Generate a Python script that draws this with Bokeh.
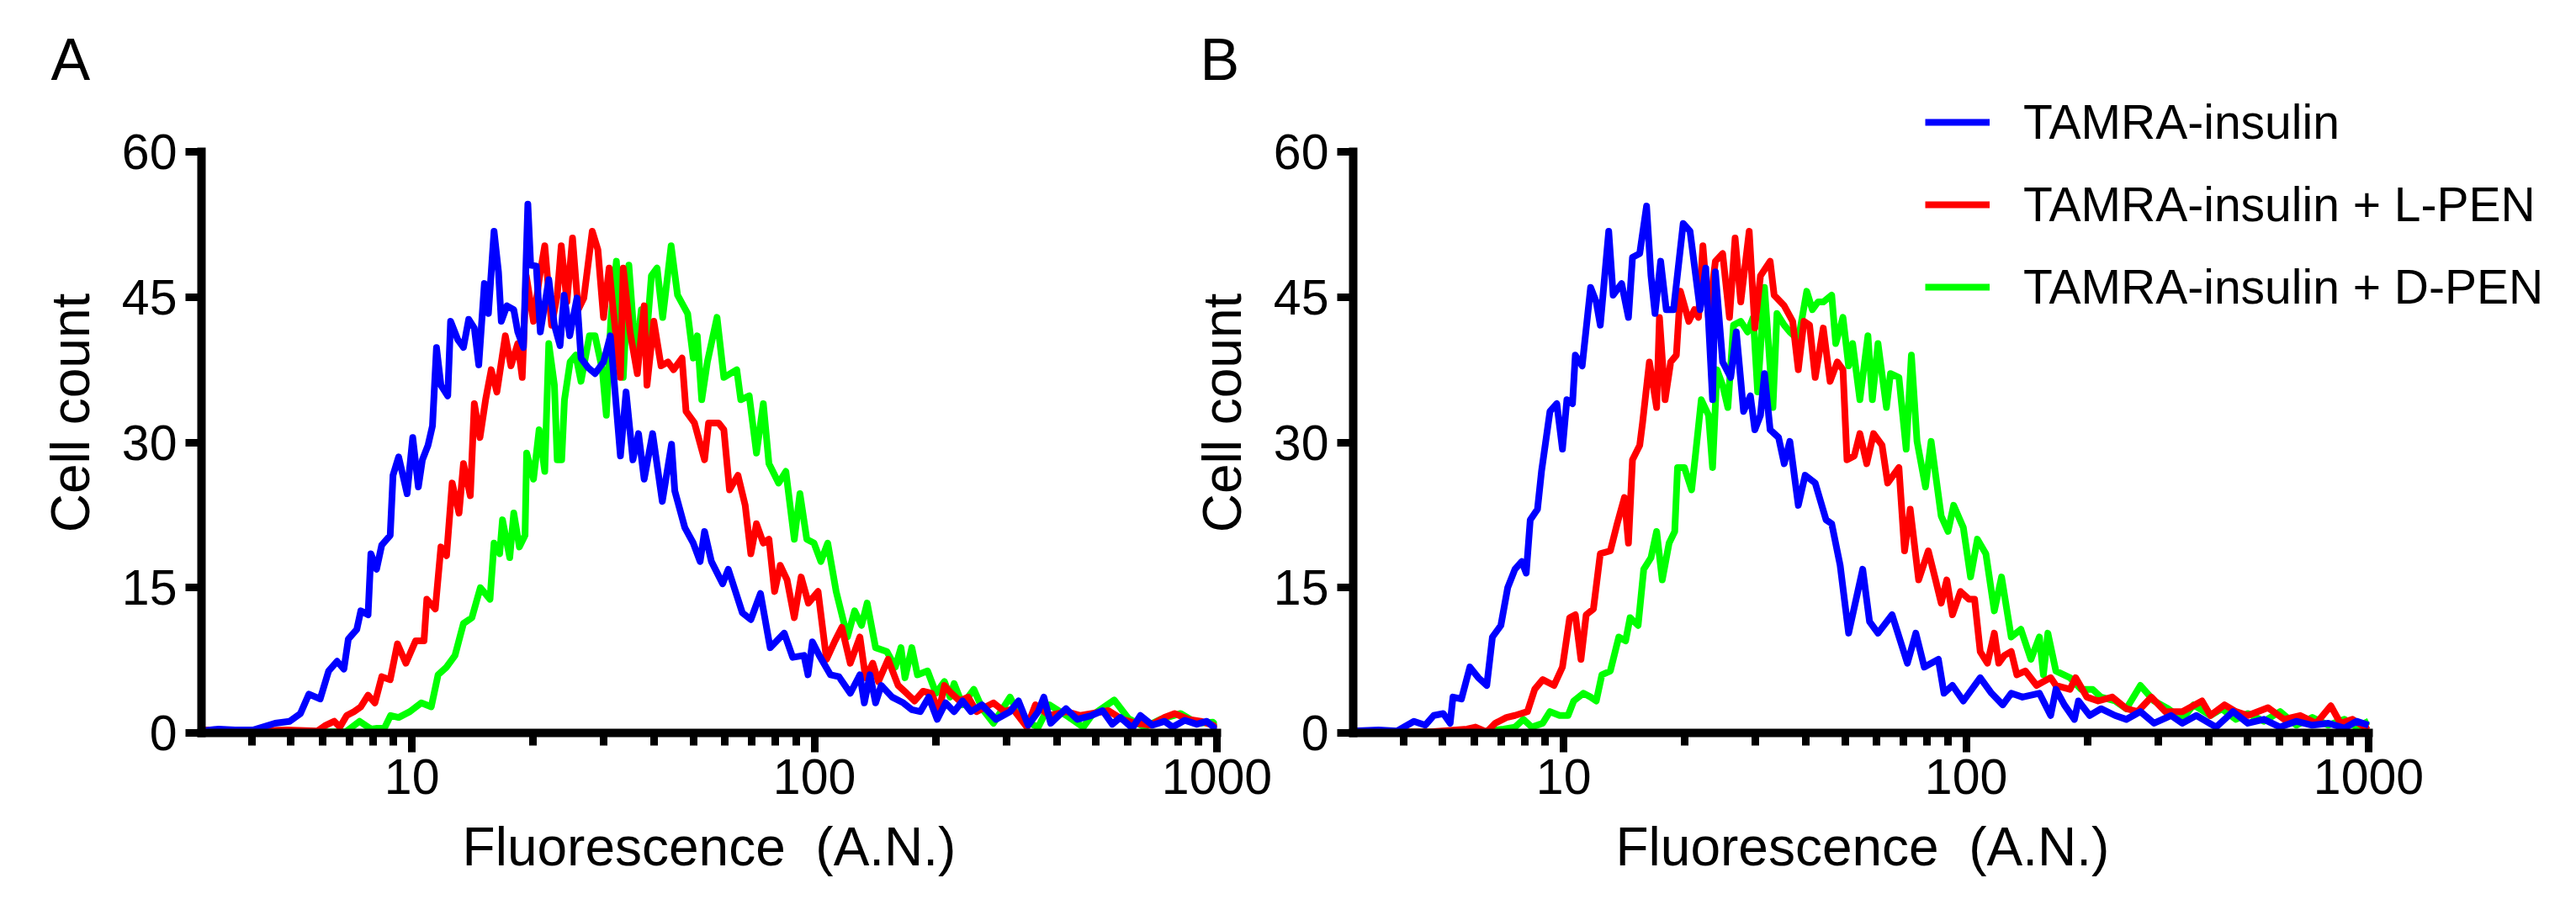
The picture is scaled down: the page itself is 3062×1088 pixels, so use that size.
from bokeh.plotting import figure
from bokeh.models import (Range1d, FixedTicker, Legend, LegendItem, Title,
                          BasicTickFormatter)
from bokeh.layouts import row
from bokeh.embed import file_html
from bokeh.resources import INLINE
import numpy as np

FONT = "Liberation Sans"

# Flow cytometry histograms: x = log10(fluorescence, A.N.), y = cell count per channel
series_labels = ["TAMRA-insulin", "TAMRA-insulin + L-PEN", "TAMRA-insulin + D-PEN"]
series_colors = ["#0000FF", "#FF0000", "#00FF00"]

x_ticks = [10, 100, 1000]
x_tick_labels = ["10", "100", "1000"]
x_minor_ticks = [4, 5, 6, 7, 8, 9, 20, 30, 40, 50, 60, 70, 80, 90,
                 200, 300, 400, 500, 600, 700, 800, 900]
y_ticks = [0, 15, 30, 45, 60]
x_limits = (3, 1000)
y_limits = (0, 60)
x_title = "Fluorescence\u00a0 (A.N.)"
y_title = "Cell count"

# ---- Panel A ----
a_blue_logf = [
    0.477, 0.520, 0.560, 0.605, 0.660, 0.696, 0.723, 0.744, 0.772, 0.793,
    0.814, 0.831, 0.842, 0.863, 0.873, 0.891, 0.898, 0.912, 0.925, 0.946,
    0.953, 0.967, 0.988, 1.002, 1.016, 1.026, 1.040, 1.051, 1.061, 1.072,
    1.089, 1.096, 1.114, 1.128, 1.141, 1.155, 1.166, 1.180, 1.190, 1.204,
    1.215, 1.222, 1.236, 1.253, 1.263, 1.277, 1.288, 1.295, 1.309, 1.319,
    1.340, 1.354, 1.368, 1.378, 1.392, 1.410, 1.420, 1.438, 1.455, 1.476,
    1.493, 1.518, 1.532, 1.549, 1.563, 1.577, 1.598, 1.622, 1.645, 1.653,
    1.678, 1.699, 1.716, 1.727, 1.744, 1.772, 1.786, 1.807, 1.821, 1.842,
    1.866, 1.890, 1.925, 1.946, 1.974, 1.984, 1.995, 2.012, 2.040, 2.061,
    2.089, 2.113, 2.124, 2.138, 2.152, 2.166, 2.193, 2.221, 2.242, 2.263,
    2.284, 2.305, 2.326, 2.347, 2.368, 2.389, 2.416, 2.451, 2.486, 2.507,
    2.531, 2.556, 2.570, 2.587, 2.625, 2.653, 2.688, 2.716, 2.740, 2.760,
    2.790, 2.810, 2.840, 2.870, 2.890, 2.920, 2.950, 2.975, 3.000]
a_blue_count = [
    0.2, 0.4, 0.3, 0.3, 1.0, 1.2, 2.0, 4.0, 3.5, 6.4,
    7.4, 6.6, 9.7, 10.7, 12.6, 12.2, 18.5, 16.9, 19.4, 20.4,
    26.6, 28.5, 24.7, 30.5, 25.4, 28.2, 29.7, 31.7, 39.8, 35.9,
    34.8, 42.5, 40.6, 39.8, 42.7, 41.8, 38.0, 46.4, 43.3, 51.8,
    47.6, 42.5, 44.1, 43.7, 41.4, 39.8, 54.6, 48.3, 48.2, 41.4,
    46.8, 42.1, 40.0, 45.2, 41.0, 44.9, 38.7, 37.7, 37.1, 38.3,
    41.0, 28.6, 35.2, 28.2, 30.9, 26.2, 30.9, 23.9, 29.8, 25.0,
    21.2, 19.6, 17.7, 20.8, 17.7, 15.4, 16.9, 14.2, 12.4, 11.7,
    14.4, 8.8, 10.3, 7.8, 8.0, 6.0, 9.4, 8.0, 6.0, 5.8,
    4.1, 6.0, 3.1, 6.0, 3.1, 4.9, 3.7, 3.1, 2.4, 2.2,
    3.7, 1.4, 3.1, 2.2, 3.3, 2.2, 2.9, 1.4, 2.2, 3.3,
    0.8, 2.2, 3.7, 1.0, 2.5, 1.4, 1.8, 2.3, 0.9, 1.6,
    0.5, 1.8, 0.8, 1.2, 0.6, 1.3, 0.9, 1.2, 0.3]

a_red_logf = [
    0.477, 0.540, 0.605, 0.689, 0.765, 0.786, 0.807, 0.821, 0.838, 0.856,
    0.873, 0.891, 0.908, 0.925, 0.946, 0.964, 0.985, 1.009, 1.030, 1.037,
    1.058, 1.072, 1.086, 1.100, 1.117, 1.128, 1.145, 1.155, 1.169, 1.183,
    1.197, 1.211, 1.232, 1.246, 1.263, 1.274, 1.284, 1.302, 1.316, 1.330,
    1.347, 1.361, 1.371, 1.385, 1.399, 1.413, 1.427, 1.448, 1.462, 1.476,
    1.490, 1.500, 1.518, 1.525, 1.542, 1.560, 1.577, 1.584, 1.601, 1.619,
    1.636, 1.650, 1.671, 1.681, 1.702, 1.727, 1.737, 1.762, 1.775, 1.789,
    1.810, 1.828, 1.842, 1.856, 1.873, 1.887, 1.901, 1.915, 1.932, 1.950,
    1.967, 1.985, 2.009, 2.030, 2.051, 2.068, 2.089, 2.113, 2.127, 2.145,
    2.159, 2.183, 2.208, 2.229, 2.249, 2.270, 2.291, 2.309, 2.323, 2.340,
    2.361, 2.382, 2.403, 2.445, 2.472, 2.493, 2.528, 2.549, 2.584, 2.626,
    2.661, 2.689, 2.730, 2.765, 2.800, 2.835, 2.870, 2.895, 2.930, 2.960,
    2.990, 3.000]
a_red_count = [
    0.3, 0.3, 0.2, 0.3, 0.2, 0.8, 1.2, 0.6, 1.8, 2.2,
    2.7, 3.9, 3.1, 5.8, 5.5, 9.2, 7.2, 9.5, 9.5, 13.8,
    12.8, 19.2, 18.3, 25.8, 22.7, 27.8, 24.5, 34.0, 30.5, 34.4,
    37.5, 35.2, 41.0, 37.9, 40.2, 36.7, 47.2, 42.5, 46.8, 50.3,
    42.1, 45.2, 50.3, 44.5, 51.1, 43.7, 44.9, 51.8, 49.9, 42.9,
    48.0, 43.7, 36.7, 48.0, 41.4, 37.1, 44.1, 35.9, 42.5, 37.9,
    38.3, 37.5, 38.7, 33.2, 32.0, 28.2, 32.0, 32.0, 31.3, 25.1,
    26.6, 23.5, 18.5, 21.6, 19.6, 20.0, 14.6, 17.3, 15.8, 11.9,
    16.1, 13.4, 14.6, 7.6, 9.5, 10.9, 7.2, 9.9, 5.7, 7.2,
    5.3, 7.6, 4.9, 4.1, 3.3, 4.3, 4.1, 2.2, 4.9, 4.1,
    3.3, 3.7, 2.2, 3.1, 2.2, 2.5, 0.6, 2.9, 1.8, 2.2,
    1.8, 2.0, 2.3, 1.4, 1.0, 0.8, 1.6, 2.0, 1.4, 1.2,
    0.8, 0.5]

a_green_logf = [
    0.477, 0.605, 0.744, 0.835, 0.870, 0.898, 0.933, 0.947, 0.967, 0.995,
    1.023, 1.048, 1.065, 1.086, 1.107, 1.128, 1.149, 1.170, 1.194, 1.204,
    1.218, 1.225, 1.243, 1.253, 1.267, 1.281, 1.285, 1.302, 1.316, 1.330,
    1.340, 1.354, 1.361, 1.372, 1.379, 1.393, 1.407, 1.420, 1.441, 1.455,
    1.473, 1.483, 1.494, 1.508, 1.525, 1.539, 1.556, 1.570, 1.581, 1.595,
    1.609, 1.623, 1.644, 1.660, 1.685, 1.699, 1.709, 1.720, 1.734, 1.758,
    1.775, 1.807, 1.817, 1.838, 1.856, 1.873, 1.887, 1.911, 1.929, 1.950,
    1.964, 1.981, 1.999, 2.016, 2.033, 2.054, 2.082, 2.100, 2.117, 2.131,
    2.152, 2.180, 2.201, 2.215, 2.225, 2.242, 2.256, 2.281, 2.302, 2.323,
    2.337, 2.347, 2.368, 2.396, 2.417, 2.445, 2.486, 2.514, 2.556, 2.584,
    2.626, 2.668, 2.689, 2.745, 2.780, 2.820, 2.860, 2.910, 2.950, 2.990,
    3.000]
a_green_count = [
    0.1, 0.1, 0.1, 0.1, 1.2, 0.4, 0.6, 1.8, 1.6, 2.2,
    3.1, 2.7, 6.0, 6.8, 8.0, 11.3, 11.9, 15.0, 13.8, 19.6,
    18.5, 22.0, 18.1, 22.7, 19.2, 20.4, 28.9, 26.2, 31.3, 27.0,
    40.2, 35.9, 28.2, 28.2, 34.4, 38.3, 39.0, 36.3, 41.0, 41.0,
    37.5, 32.8, 42.5, 48.7, 36.7, 48.3, 38.7, 43.7, 39.8, 47.2,
    48.0, 42.9, 50.3, 45.2, 43.3, 38.7, 41.0, 34.4, 38.3, 42.9,
    36.7, 37.5, 34.4, 34.8, 28.9, 34.0, 27.8, 25.8, 27.0, 20.0,
    24.7, 20.0, 19.6, 17.7, 19.6, 14.6, 9.9, 12.6, 11.1, 13.4,
    8.8, 8.4, 6.8, 8.8, 5.7, 8.8, 6.0, 6.4, 4.1, 5.3,
    3.7, 5.1, 2.9, 4.5, 2.5, 1.0, 3.7, 1.4, 0.6, 2.9,
    1.8, 0.6, 1.8, 3.4, 1.5, 0.6, 1.4, 2.0, 1.0, 1.1,
    0.7]

# ---- Panel B ----
b_blue_logf = [
    0.477, 0.540, 0.586, 0.628, 0.656, 0.677, 0.701, 0.718, 0.725, 0.746,
    0.767, 0.788, 0.809, 0.823, 0.844, 0.861, 0.879, 0.896, 0.907, 0.917,
    0.935, 0.945, 0.966, 0.983, 0.997, 1.008, 1.022, 1.029, 1.046, 1.067,
    1.081, 1.091, 1.112, 1.123, 1.144, 1.161, 1.171, 1.189, 1.206, 1.217,
    1.227, 1.241, 1.255, 1.273, 1.297, 1.314, 1.339, 1.353, 1.370, 1.377,
    1.395, 1.415, 1.429, 1.447, 1.464, 1.475, 1.489, 1.499, 1.513, 1.534,
    1.548, 1.562, 1.583, 1.600, 1.625, 1.652, 1.666, 1.687, 1.708, 1.743,
    1.760, 1.781, 1.816, 1.854, 1.875, 1.896, 1.931, 1.945, 1.966, 1.993,
    2.035, 2.063, 2.091, 2.112, 2.140, 2.182, 2.210, 2.223, 2.244, 2.269,
    2.279, 2.307, 2.335, 2.370, 2.398, 2.433, 2.467, 2.509, 2.537, 2.572,
    2.621, 2.663, 2.700, 2.740, 2.780, 2.820, 2.860, 2.900, 2.940, 2.970,
    3.000]
b_blue_count = [
    0.2, 0.3, 0.2, 1.2, 0.8, 1.8, 2.0, 1.0, 3.7, 3.5,
    6.8, 5.7, 4.9, 9.9, 11.1, 15.0, 16.9, 17.7, 16.5, 22.0,
    23.1, 27.0, 33.2, 34.0, 29.3, 34.4, 34.0, 39.0, 37.9, 46.0,
    44.5, 42.1, 51.8, 45.2, 46.4, 42.9, 49.1, 49.5, 54.4, 47.2,
    43.3, 48.7, 43.7, 43.7, 52.6, 51.8, 43.7, 48.0, 34.4, 47.6,
    38.3, 36.7, 41.4, 33.2, 34.8, 31.3, 32.8, 37.1, 31.3, 30.5,
    27.8, 30.1, 23.5, 26.6, 25.8, 22.0, 21.6, 17.3, 10.3, 16.9,
    11.5, 10.3, 12.2, 7.2, 10.3, 6.8, 7.6, 4.1, 4.9, 3.3,
    5.7, 4.1, 2.9, 4.1, 3.7, 4.1, 1.8, 4.5, 2.9, 1.4,
    3.3, 1.8, 2.5, 1.8, 1.4, 2.2, 1.0, 1.8, 1.0, 1.8,
    0.6, 2.2, 1.0, 1.4, 0.6, 1.2, 0.8, 1.0, 0.5, 1.2,
    0.8]

b_red_logf = [
    0.477, 0.586, 0.670, 0.760, 0.781, 0.809, 0.830, 0.858, 0.879, 0.910,
    0.928, 0.948, 0.976, 0.997, 1.015, 1.029, 1.043, 1.056, 1.074, 1.091,
    1.116, 1.133, 1.151, 1.161, 1.171, 1.189, 1.196, 1.213, 1.231, 1.238,
    1.252, 1.266, 1.280, 1.290, 1.311, 1.325, 1.335, 1.346, 1.360, 1.377,
    1.395, 1.412, 1.426, 1.440, 1.461, 1.475, 1.489, 1.513, 1.523, 1.548,
    1.569, 1.583, 1.597, 1.611, 1.625, 1.645, 1.662, 1.680, 1.694, 1.704,
    1.722, 1.736, 1.753, 1.770, 1.791, 1.805, 1.833, 1.847, 1.861, 1.882,
    1.906, 1.924, 1.938, 1.952, 1.966, 1.986, 2.007, 2.021, 2.035, 2.053,
    2.070, 2.081, 2.095, 2.112, 2.126, 2.147, 2.175, 2.210, 2.223, 2.258,
    2.272, 2.300, 2.328, 2.363, 2.398, 2.426, 2.460, 2.495, 2.537, 2.586,
    2.607, 2.642, 2.670, 2.700, 2.750, 2.790, 2.830, 2.870, 2.906, 2.930,
    2.960, 2.990, 3.000]
b_red_count = [
    0.1, 0.1, 0.1, 0.4, 0.6, 0.1, 1.0, 1.6, 1.8, 2.2,
    4.5, 5.5, 4.9, 6.8, 11.9, 12.2, 7.6, 12.2, 12.8, 18.5,
    18.8, 21.6, 24.3, 19.6, 28.2, 29.7, 32.0, 38.3, 33.6, 42.9,
    34.4, 38.3, 39.0, 45.6, 42.5, 43.7, 42.9, 50.3, 42.9, 48.7,
    49.5, 42.9, 51.1, 44.5, 51.8, 41.8, 47.2, 48.7, 45.2, 44.1,
    42.5, 37.5, 42.5, 42.1, 36.7, 41.8, 36.3, 38.3, 37.5, 28.2,
    28.6, 30.9, 27.8, 30.9, 29.7, 25.8, 27.4, 18.8, 23.1, 15.8,
    18.8, 15.8, 13.4, 15.8, 12.2, 14.6, 13.8, 13.8, 8.4, 7.2,
    10.3, 7.2, 8.0, 8.4, 6.0, 6.4, 4.9, 5.7, 4.9, 4.5,
    5.7, 3.7, 3.3, 3.7, 2.5, 2.2, 3.7, 2.2, 2.2, 3.3,
    1.8, 2.9, 2.2, 1.8, 2.6, 1.4, 1.8, 1.0, 2.8, 1.0,
    1.4, 0.6, 0.8]

b_green_logf = [
    0.477, 0.586, 0.725, 0.795, 0.851, 0.879, 0.900, 0.921, 0.948, 0.966,
    0.990, 1.011, 1.025, 1.049, 1.067, 1.081, 1.095, 1.116, 1.137, 1.154,
    1.165, 1.185, 1.199, 1.217, 1.231, 1.245, 1.262, 1.276, 1.283, 1.300,
    1.318, 1.328, 1.342, 1.360, 1.370, 1.381, 1.395, 1.408, 1.422, 1.440,
    1.457, 1.471, 1.482, 1.499, 1.520, 1.530, 1.548, 1.562, 1.583, 1.604,
    1.618, 1.632, 1.645, 1.666, 1.676, 1.694, 1.708, 1.718, 1.736, 1.756,
    1.767, 1.781, 1.802, 1.812, 1.833, 1.851, 1.864, 1.878, 1.899, 1.913,
    1.938, 1.955, 1.969, 1.993, 2.011, 2.028, 2.049, 2.070, 2.088, 2.112,
    2.136, 2.161, 2.182, 2.192, 2.203, 2.223, 2.258, 2.286, 2.314, 2.335,
    2.370, 2.398, 2.433, 2.467, 2.502, 2.537, 2.565, 2.607, 2.635, 2.670,
    2.700, 2.740, 2.780, 2.820, 2.860, 2.900, 2.940, 2.970, 3.000]
b_green_count = [
    0.1, 0.1, 0.1, 0.1, 0.4, 0.6, 1.4, 0.6, 1.0, 2.2,
    1.8, 1.8, 3.3, 4.1, 3.7, 3.3, 6.0, 6.4, 9.9, 9.5,
    11.9, 11.1, 16.9, 18.1, 20.8, 15.8, 19.6, 20.8, 27.4, 27.4,
    25.1, 28.9, 34.4, 32.8, 27.4, 37.5, 35.9, 33.6, 42.1, 42.5,
    41.4, 42.9, 35.2, 46.0, 33.6, 43.3, 42.1, 41.4, 40.6, 45.6,
    43.7, 44.5, 44.5, 45.2, 40.2, 42.9, 37.9, 40.2, 34.4, 41.0,
    34.4, 40.2, 33.6, 37.1, 36.7, 29.3, 39.0, 30.1, 25.4, 30.1,
    22.4, 20.8, 23.5, 21.2, 16.1, 20.0, 18.5, 12.6, 16.1, 9.9,
    10.7, 7.6, 9.9, 6.0, 10.3, 6.4, 5.7, 4.5, 4.5, 3.7,
    3.3, 2.5, 4.9, 3.3, 2.5, 1.4, 2.9, 1.8, 2.5, 1.4,
    2.0, 1.2, 2.2, 0.8, 1.6, 0.8, 1.4, 0.6, 1.2]

# ---- layout (pixels) ----
HEIGHT = 1088
AXIS_W = 1207          # length of the 3..1000 x axis
AXIS_H = 691           # length of the 0..60 y axis
FRAME_TOP = 110        # frame reaches above the y axis so the legend fits inside it
FRAME_BOTTOM = 217
frame_h = HEIGHT - FRAME_TOP - FRAME_BOTTOM
y_top = y_limits[1] * frame_h / AXIS_H


def make_panel(letter, curves, width, border_left, letter_offset,
               frame_w=AXIS_W, show_legend=False, transparent=False):
    x_end = x_limits[0] * (x_limits[1] / x_limits[0]) ** (frame_w / AXIS_W)
    p = figure(width=width, height=HEIGHT, x_axis_type="log",
               x_range=Range1d(x_limits[0], x_end), y_range=Range1d(0, y_top),
               output_backend="svg", toolbar_location=None,
               min_border_left=border_left,
               min_border_right=width - border_left - frame_w,
               min_border_top=FRAME_TOP, min_border_bottom=FRAME_BOTTOM)
    p.outline_line_color = None
    p.xgrid.visible = False
    p.ygrid.visible = False
    if transparent:
        p.background_fill_color = None
        p.border_fill_color = None

    p.title = Title(text=letter, align="left", offset=letter_offset, standoff=2,
                    text_font=FONT, text_font_size="70px",
                    text_font_style="normal", text_color="black")

    for ax in (p.xaxis[0], p.yaxis[0]):
        ax.axis_line_width = 10
        ax.axis_line_cap = "square"
        ax.major_tick_line_width = 9
        ax.minor_tick_line_width = 9
        ax.major_tick_in = 0
        ax.minor_tick_in = 0
        ax.major_label_text_font = FONT
        ax.major_label_text_font_size = "59px"
        ax.major_label_text_color = "black"
        ax.axis_label_text_font = FONT
        ax.axis_label_text_font_size = "64px"
        ax.axis_label_text_font_style = "normal"
        ax.axis_label_text_color = "black"

    xa = p.xaxis[0]
    xa.bounds = x_limits
    xa.ticker = FixedTicker(ticks=x_ticks, minor_ticks=x_minor_ticks)
    xa.formatter = BasicTickFormatter(use_scientific=False)
    xa.major_label_overrides = {t: s for t, s in zip(x_ticks, x_tick_labels)}
    xa.major_tick_out = 23
    xa.minor_tick_out = 15
    xa.major_label_standoff = 8
    if frame_w == AXIS_W:
        xa.axis_label = x_title
        xa.axis_label_standoff = 24
    else:
        # the frame is wider than the axis here, so centre the title under the axis itself
        p.add_layout(Title(text=x_title, align="left", vertical_align="top",
                           offset=312, standoff=48, text_font=FONT,
                           text_font_size="64px", text_font_style="normal",
                           text_color="black"), "below")

    ya = p.yaxis[0]
    ya.bounds = y_limits
    ya.ticker = FixedTicker(ticks=y_ticks)
    ya.major_tick_out = 19
    ya.minor_tick_out = 0
    ya.major_label_standoff = 10
    ya.axis_label = y_title
    ya.axis_label_standoff = 22

    # D-PEN first so the plain TAMRA-insulin trace sits on top
    renderers = {}
    for i in (2, 1, 0):
        logf, count = curves[i]
        renderers[i] = p.line(10 ** np.asarray(logf), count,
                              line_color=series_colors[i], line_width=8,
                              line_join="round")

    if show_legend:
        legend = Legend(items=[LegendItem(label=series_labels[i], renderers=[renderers[i]])
                               for i in range(3)],
                        location=(680, 495))
        legend.label_text_font = FONT
        legend.label_text_font_size = "57px"
        legend.label_text_color = "black"
        legend.glyph_width = 77
        legend.glyph_height = 70
        legend.label_height = 70
        legend.label_standoff = 40
        legend.spacing = 28
        legend.padding = 0
        legend.margin = 0
        legend.border_line_color = None
        legend.background_fill_alpha = 0
        p.add_layout(legend)
    return p


panel_a = make_panel("A", [(a_blue_logf, a_blue_count),
                           (a_red_logf, a_red_count),
                           (a_green_logf, a_green_count)],
                     width=1520, border_left=239, letter_offset=-179)
panel_b = make_panel("B", [(b_blue_logf, b_blue_count),
                           (b_red_logf, b_red_count),
                           (b_green_logf, b_green_count)],
                     width=1662, border_left=208, letter_offset=-182,
                     frame_w=1662 - 208, show_legend=True, transparent=True)
panel_b.margin = (0, 0, 0, -120)

layout = row(panel_a, panel_b)
open("out.html", "w").write(file_html(layout, INLINE))
